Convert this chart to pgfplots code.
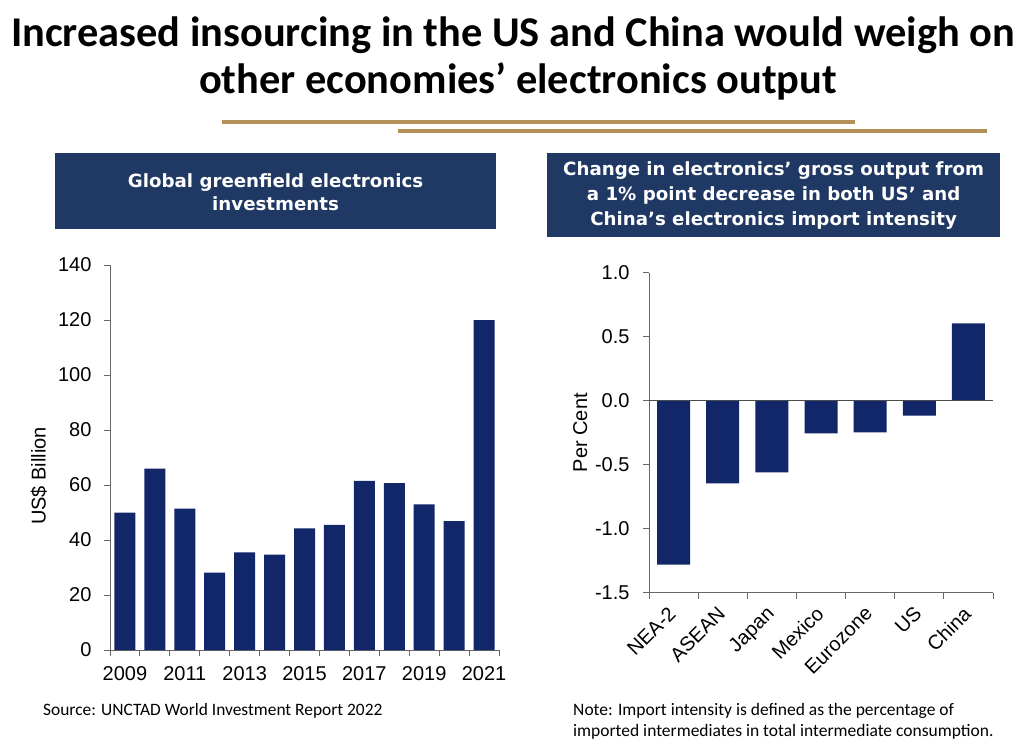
\documentclass[border=0pt]{standalone}
\usepackage{pgfplots}
\pgfplotsset{compat=1.18}
\usepackage{fontspec}
\setmainfont{Liberation Sans}
\newfontfamily\calibri{Carlito}
\newfontfamily\verd{DejaVu Sans}
\definecolor{barc}{HTML}{12266A}
\definecolor{banner}{HTML}{1F3864}
\definecolor{gold}{HTML}{B39258}
\begin{document}
\begin{tikzpicture}[x=1pt,y=1pt]
\path[use as bounding box] (0pt,0pt) rectangle (1024pt,-751pt);
% title
\node[font=\calibri\bfseries\fontsize{42.4}{50}\selectfont] at (513pt,-35pt) {Increased insourcing in the US and China would weigh on};
\node[font=\calibri\bfseries\fontsize{42.4}{50}\selectfont] at (518pt,-81pt) {other economies’ electronics output};
\draw[gold, line width=4.3pt] (222pt,-122pt) -- (855pt,-122pt);
\draw[gold, line width=4.3pt] (398pt,-131pt) -- (987pt,-131pt);
% banners
\fill[banner] (55.3pt,-152.7pt) rectangle (496pt,-229.3pt);
\node[text=white, font=\verd\bfseries\fontsize{18.2}{23.5}\selectfont, align=center] at (275.6pt,-192pt) {Global greenfield electronics\\investments};
\fill[banner] (547.3pt,-152.7pt) rectangle (1000pt,-236.7pt);
\node[text=white, font=\verd\bfseries\fontsize{18.2}{25}\selectfont, align=center] at (773.6pt,-196pt) {Change in electronics’ gross output from\\a 1\% point decrease in both US’ and\\China’s electronics import intensity};
% notes
\node[anchor=west, inner sep=0pt, font=\calibri\fontsize{17.4}{21}\selectfont] at (43pt,-710.7pt) {Source: UNCTAD World Investment Report 2022};
\node[anchor=west, inner sep=0pt, font=\calibri\fontsize{17.5}{21}\selectfont] at (573pt,-710.7pt) {Note: Import intensity is defined as the percentage of};
\node[anchor=west, inner sep=0pt, font=\calibri\fontsize{17.5}{21}\selectfont] at (573pt,-731.7pt) {imported intermediates in total intermediate consumption.};

\pgfplotsset{
  every axis/.append style={
    scale only axis,
    axis x line*=bottom, axis y line*=left,
    axis line style={black!60, line width=0.9pt},
    tick style={black!60, line width=0.9pt},
    tick align=outside,
    major tick length=6pt, minor tick length=6pt,
    tick label style={font=\fontsize{20}{24}\selectfont},
    label style={font=\fontsize{20}{24}\selectfont},
    /pgf/number format/assume math mode=true,
    major x tick style={draw=none},
    clip=false,
  }
}
\begin{axis}[
  at={(110pt,-650pt)}, anchor=south west,
  width=389pt, height=385pt,
  xmin=-0.5, xmax=12.5, ymin=0, ymax=140,
  ytick={0,20,...,140},
  xtick={0,2,...,12},
  xticklabels={2009,2011,2013,2015,2017,2019,2021},
  minor xtick={-0.5,0.5,...,12.5},
  xticklabel style={yshift=-7pt},
  yticklabel style={xshift=-9pt},
  ylabel={US\$ Billion},
  ylabel style={at={(axis description cs:-0.1825,0.452)}, anchor=center, rotate=0},
]
\addplot[ybar, bar width=21pt, fill=barc, draw=none] coordinates {
(0,50) (1,66) (2,51.4) (3,28.1) (4,35.5) (5,34.7) (6,44.2) (7,45.5) (8,61.5) (9,60.7) (10,53.0) (11,46.9) (12,120)
};
\end{axis}

\begin{axis}[
  at={(649pt,-592.7pt)}, anchor=south west,
  width=344pt, height=320pt,
  xmin=-0.5, xmax=6.5, ymin=-1.5, ymax=1.0,
  ytick={-1.5,-1,-0.5,0,0.5,1},
  yticklabels={-1.5,-1.0,-0.5,0.0,0.5,1.0},
  xtick={0,...,6},
  xticklabels={NEA-2,ASEAN,Japan,Mexico,Eurozone,US,China},
  minor xtick={-0.5,0.5,...,6.5},
  xticklabel style={rotate=45, anchor=north east, inner sep=1pt, xshift=-8pt, yshift=1pt},
  yticklabel style={xshift=-10pt},
  ylabel={Per Cent},
  ylabel style={at={(axis description cs:-0.2,0.5)}, anchor=center, rotate=0},
]
\addplot[ybar, bar width=33pt, fill=barc, draw=none] coordinates {
(0,-1.28) (1,-0.646) (2,-0.56) (3,-0.255) (4,-0.247) (5,-0.117) (6,0.604)
};
\addplot[black!70, line width=0.9pt] coordinates {(-0.5,0) (6.5,0)};
\end{axis}
\end{tikzpicture}
\end{document}
